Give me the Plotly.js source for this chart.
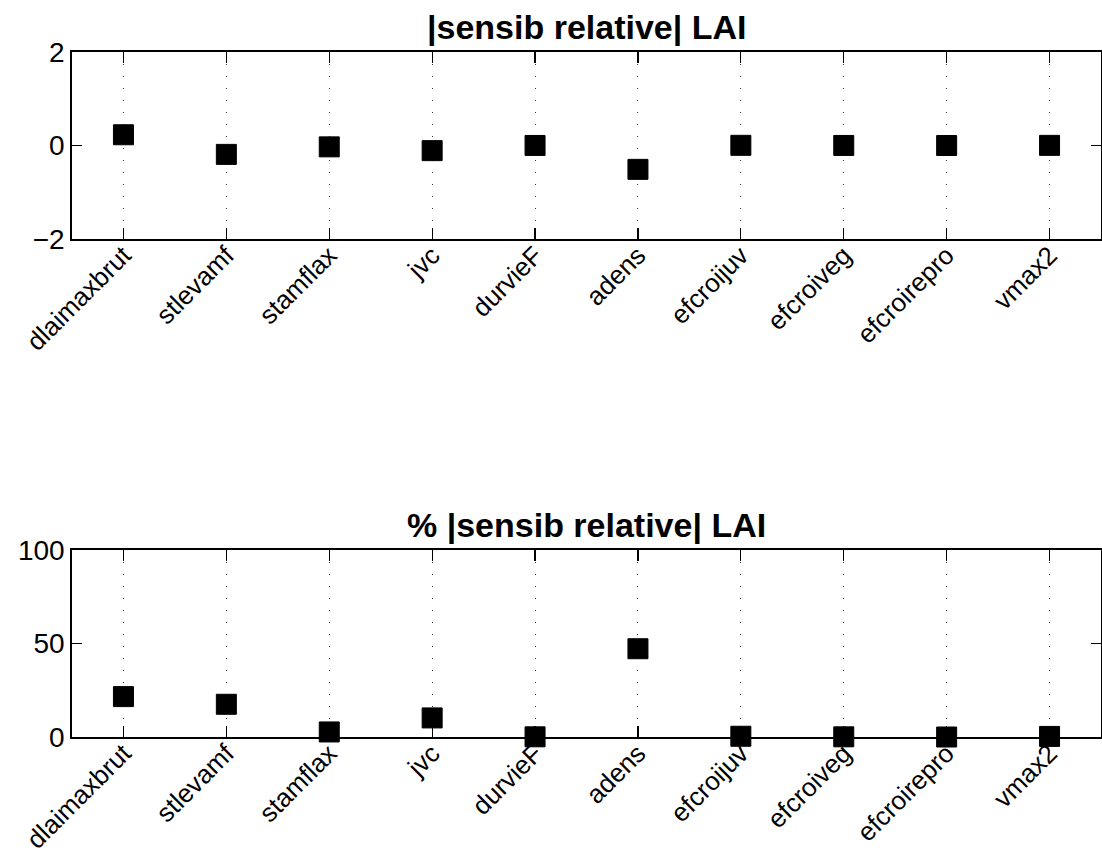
<!DOCTYPE html>
<html>
<head>
<meta charset="utf-8">
<script src="https://cdn.plot.ly/plotly-3.0.1.min.js"></script>
<style>
  html, body { margin: 0; padding: 0; background: #fff; }
  #chart { width: 1102px; height: 862px; }
</style>
</head>
<body>
<div id="chart"></div>
<script>
const categories = ["dlaimaxbrut", "stlevamf", "stamflax", "jvc", "durvieF", "adens", "efcroijuv", "efcroiveg", "efcroirepro", "vmax2"];
const sensibRelative = [0.23, -0.19, -0.029, -0.11, 0.001, -0.51, 0.004, 0.001, 0.0, 0.003];
const pctSensibRelative = [21.6, 17.5, 2.7, 10.2, 0.1, 47.2, 0.4, 0.1, 0.0, 0.3];
const topTitle = "|sensib relative| LAI";
const bottomTitle = "% |sensib relative| LAI";
const topYTicks = [-2, 0, 2];
const bottomYTicks = [0, 50, 100];

const xIdx = categories.map((_, i) => i + 1);
const font = "Liberation Sans, Arial, Helvetica, sans-serif";

const marker = { symbol: "square", size: 20, color: "#000", line: { color: "#000", width: 1 } };

const traces = [
  { x: xIdx, y: sensibRelative, type: "scatter", mode: "markers", marker: marker, xaxis: "x", yaxis: "y", showlegend: false, hoverinfo: "skip", cliponaxis: false },
  { x: xIdx, y: pctSensibRelative, type: "scatter", mode: "markers", marker: marker, xaxis: "x2", yaxis: "y2", showlegend: false, hoverinfo: "skip", cliponaxis: false }
];

const xCommon = {
  range: [0.5, 10.5],
  tickmode: "array",
  tickvals: xIdx,
  ticktext: categories,
  tickangle: -45,
  ticks: "inside",
  ticklen: 11,
  tickwidth: 1.2,
  tickcolor: "#000",
  showline: true,
  linecolor: "#000",
  linewidth: 1.8,
  mirror: "ticks",
  showgrid: true,
  gridcolor: "#333",
  gridwidth: 1,
  griddash: "1px,11px",
  zeroline: false,
  layer: "below traces",
  ticklabelstandoff: -11,
  tickfont: { family: font, size: 26, color: "#000" },
  fixedrange: true
};
const yCommon = {
  tickmode: "array",
  ticks: "inside",
  ticklen: 10,
  tickwidth: 1.2,
  tickcolor: "#000",
  showline: true,
  linecolor: "#000",
  linewidth: 1.8,
  mirror: "ticks",
  showgrid: false,
  zeroline: false,
  layer: "below traces",
  tickfont: { family: font, size: 28, color: "#000" },
  fixedrange: true
};

const layout = {
  width: 1102,
  height: 862,
  margin: { l: 72, r: 1, t: 52, b: 125 },
  paper_bgcolor: "#fff",
  plot_bgcolor: "#fff",
  showlegend: false,
  xaxis: Object.assign({}, xCommon, { domain: [0, 1], anchor: "y" }),
  yaxis: Object.assign({}, yCommon, { domain: [0.727, 1], range: [-2, 2], tickvals: topYTicks, ticktext: topYTicks.map(v => v < 0 ? "\u2212" + Math.abs(v) : String(v)), anchor: "x" }),
  xaxis2: Object.assign({}, xCommon, { domain: [0, 1], anchor: "y2" }),
  yaxis2: Object.assign({}, yCommon, { domain: [0, 0.273], range: [0, 100], tickvals: bottomYTicks, ticktext: bottomYTicks.map(String), anchor: "x2" }),
  annotations: [
    { text: "<b>" + topTitle + "</b>", xref: "paper", yref: "paper", x: 0.5, y: 1, yshift: 4, xanchor: "center", yanchor: "bottom", showarrow: false, font: { family: font, size: 34, color: "#000" } },
    { text: "<b>" + bottomTitle + "</b>", xref: "paper", yref: "paper", x: 0.5, y: 0.273, yshift: 4, xanchor: "center", yanchor: "bottom", showarrow: false, font: { family: font, size: 34, color: "#000" } }
  ]
};

Plotly.newPlot("chart", traces, layout, { displayModeBar: false, staticPlot: true });
</script>
</body>
</html>
